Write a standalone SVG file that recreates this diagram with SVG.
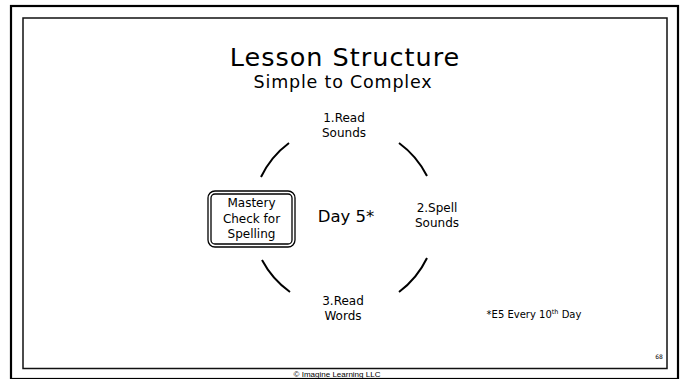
<svg xmlns="http://www.w3.org/2000/svg" width="683" height="379" viewBox="0 0 683 379">
<style>
.t{font-family:"DejaVu Sans","Noto Sans",sans-serif;fill:#000;text-anchor:middle}
.lbl{font-size:12px}
.arc{fill:none;stroke:#000;stroke-width:2}
</style>
<rect x="0" y="0" width="683" height="379" fill="#fff"/>
<g id="frame">
<rect x="11" y="6" width="667" height="373" fill="none" stroke="#000" stroke-width="2.2"/>
<rect x="23" y="18" width="644" height="350.5" fill="none" stroke="#111" stroke-width="1.5"/>
</g>
<g id="title">
<text class="t" x="345" y="66" font-size="25.5" letter-spacing="1">Lesson Structure</text>
<text class="t" x="343" y="88" font-size="17.5" letter-spacing="0.8">Simple to Complex</text>
</g>
<g id="connectors">
<path class="arc" d="M261,177 A92.5,92.5 0 0 1 289,143"/>
<path class="arc" d="M399,143 A92.5,92.5 0 0 1 427,176"/>
<path class="arc" d="M427,258 A92.5,92.5 0 0 1 399,292"/>
<path class="arc" d="M290,292 A92.5,92.5 0 0 1 262,260"/>
</g>
<g id="center">
<text class="t" x="346" y="222" font-size="16.5">Day 5*</text>
</g>
<g id="node1">
<text class="t lbl" x="344" y="122">1.Read</text>
<text class="t lbl" x="344" y="137">Sounds</text>
</g>
<g id="node2">
<text class="t lbl" x="437" y="212">2.Spell</text>
<text class="t lbl" x="437" y="227">Sounds</text>
</g>
<g id="node3">
<text class="t lbl" x="343" y="305">3.Read</text>
<text class="t lbl" x="343" y="320">Words</text>
</g>
<g id="node4">
<rect x="208" y="191" width="87" height="56" rx="7" fill="none" stroke="#000" stroke-width="1.3"/>
<rect x="211" y="194" width="81" height="50" rx="4" fill="none" stroke="#000" stroke-width="1.3"/>
<text class="t lbl" x="251.5" y="207">Mastery</text>
<text class="t lbl" x="251.5" y="223">Check for</text>
<text class="t lbl" x="251.5" y="238">Spelling</text>
</g>
<g id="note">
<text class="t" x="534" y="318" font-size="10">*E5 Every 10<tspan font-size="6.5" dy="-4">th</tspan><tspan dy="4"> Day</tspan></text>
</g>
<g id="footer">
<text class="t" x="659" y="359" font-size="6">68</text>
<text x="337" y="377" font-size="8" text-anchor="middle" font-family="Liberation Sans, sans-serif">© Imagine Learning LLC</text>
</g>
</svg>
